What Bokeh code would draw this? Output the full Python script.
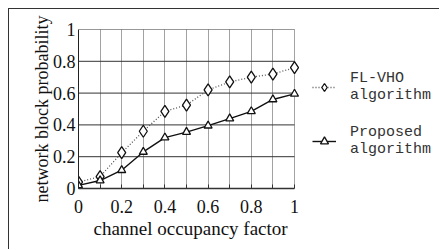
from bokeh.plotting import figure
from bokeh.models import Range1d, FixedTicker, Legend, LegendItem, Title
from bokeh.embed import file_html
from bokeh.resources import INLINE

# data
occupancy = [0, 0.1, 0.2, 0.3, 0.4, 0.5, 0.6, 0.7, 0.8, 0.9, 1.0]
fl_vho = [0.04, 0.075, 0.225, 0.36, 0.485, 0.525, 0.62, 0.67, 0.70, 0.72, 0.76]
proposed = [0.02, 0.05, 0.115, 0.23, 0.32, 0.355, 0.395, 0.44, 0.485, 0.56, 0.595]
x_ticks = [0, 0.2, 0.4, 0.6, 0.8, 1.0]
x_minor = [0.1, 0.3, 0.5, 0.7, 0.9]
y_ticks = [0, 0.2, 0.4, 0.6, 0.8, 1.0]
tick_text = {0: "0", 0.2: "0.2", 0.4: "0.4", 0.6: "0.6", 0.8: "0.8", 1.0: "1"}
series_names = ["FL-VHO\nalgorithm", "Proposed\nalgorithm"]
x_title = "channel occupancy factor"
y_title = "network block probability"

SERIF = "Liberation Serif"
X_MAX = 1.0
X_VIEW = 360 / 216  # extra room on the right of the data area holds the legend

p = figure(width=431, height=241, output_backend="svg", toolbar_location=None,
           x_range=Range1d(0, X_VIEW), y_range=Range1d(0, 1),
           min_border_left=69, min_border_right=2, min_border_top=20, min_border_bottom=62,
           outline_line_color=None,
           styles={"margin-left": "8px", "margin-top": "8px",
                   "border-left": "1px solid #333", "border-top": "1px solid #333"})

# grids: dotted verticals at every 0.1, solid horizontals at every 0.2 (only over the data area)
p.xgrid.ticker = FixedTicker(ticks=x_ticks + x_minor)
p.xgrid.grid_line_color = "#444"
p.xgrid.grid_line_dash = "1 1"
p.xgrid.grid_line_width = 1
p.ygrid.visible = False
p.segment(x0=0, x1=X_MAX, y0=y_ticks[1:], y1=y_ticks[1:], line_color="#333", line_width=1)

# x axis
xa = p.xaxis[0]
xa.bounds = (0, X_MAX)
xa.ticker = FixedTicker(ticks=x_ticks, minor_ticks=x_minor)
xa.major_label_overrides = tick_text
xa.major_tick_in = 4
xa.major_tick_out = 0
xa.minor_tick_in = 4
xa.minor_tick_out = 0
xa.axis_line_color = "#333"
xa.axis_line_width = 1.5
xa.major_tick_line_color = "#333"
xa.minor_tick_line_color = "#333"
xa.major_label_text_font = SERIF
xa.major_label_text_font_size = "18px"
xa.major_label_text_color = "#111"
xa.major_label_standoff = 11

p.add_layout(Title(text=x_title, align="left", offset=15, standoff=0,
                   text_font=SERIF, text_font_size="19px", text_font_style="normal",
                   text_color="#111"), "below")

# y axis
ya = p.yaxis[0]
ya.ticker = FixedTicker(ticks=y_ticks)
ya.major_label_overrides = tick_text
ya.major_tick_in = 0
ya.major_tick_out = 0
ya.minor_tick_in = 0
ya.minor_tick_out = 0
ya.axis_line_color = "#222"
ya.axis_line_width = 1
ya.major_label_text_font = SERIF
ya.major_label_text_font_size = "18px"
ya.major_label_text_color = "#111"
ya.major_label_standoff = 3
ya.axis_label = y_title
ya.axis_label_text_font = SERIF
ya.axis_label_text_font_size = "18px"
ya.axis_label_text_font_style = "normal"
ya.axis_label_text_color = "#111"
ya.axis_label_standoff = -2

# series
l1 = p.line(occupancy, fl_vho, line_color="#555", line_dash="1 2", line_width=1.3)
m1 = p.scatter(occupancy, fl_vho, marker="diamond", size=12, fill_color="white",
               line_color="#111", line_width=1.3)
l2 = p.line(occupancy, proposed, line_color="#111", line_width=1.4)
m2 = p.scatter(occupancy, proposed, marker="triangle", size=8, fill_color="white",
               line_color="#111", line_width=1.3)

legend = Legend(items=[LegendItem(label=series_names[0], renderers=[l1, m1]),
                       LegendItem(label=series_names[1], renderers=[l2, m2])],
                location=(234, 30), orientation="vertical",
                border_line_color=None, background_fill_alpha=0,
                glyph_width=24, glyph_height=20, label_standoff=14,
                label_text_font="Liberation Mono", label_text_font_size="15px",
                label_text_color="#333", label_text_line_height=1.55,
                spacing=20, padding=0, margin=0)
p.add_layout(legend, "center")

open("out.html", "w").write(file_html(p, INLINE))
